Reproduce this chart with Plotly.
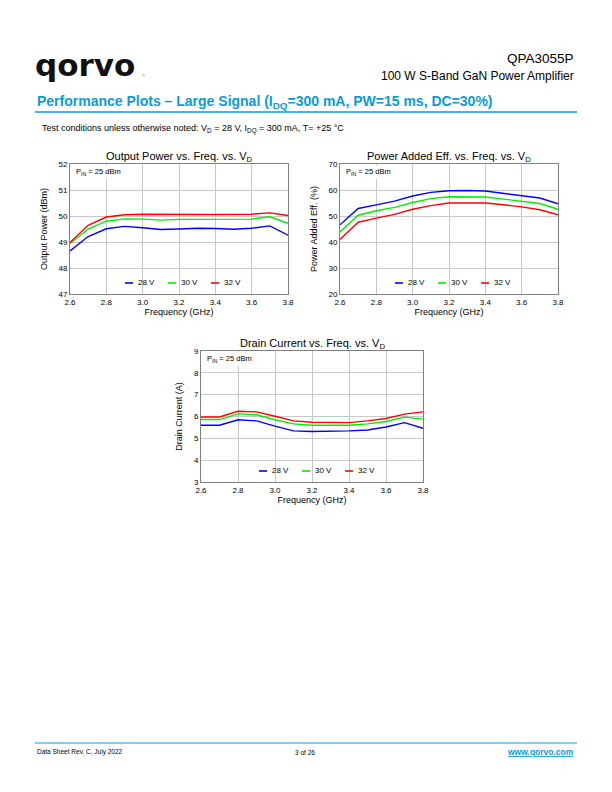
import plotly.graph_objects as go

freq = [2.6, 2.7, 2.8, 2.9, 3.0, 3.1, 3.2, 3.3, 3.4, 3.5, 3.6, 3.7, 3.8]
series_names = ["28 V", "30 V", "32 V"]
series_colors = ["#0000ff", "#00ee00", "#ff0000"]

pout_28 = [48.66, 49.21, 49.51, 49.60, 49.55, 49.48, 49.50, 49.53, 49.52, 49.49, 49.53, 49.62, 49.26]
pout_30 = [48.94, 49.50, 49.80, 49.89, 49.88, 49.84, 49.87, 49.87, 49.87, 49.87, 49.88, 49.97, 49.72]
pout_32 = [48.98, 49.64, 49.96, 50.05, 50.07, 50.06, 50.06, 50.06, 50.06, 50.06, 50.07, 50.12, 50.02]

pae_28 = [46.6, 52.9, 54.3, 55.7, 57.7, 59.1, 59.7, 59.8, 59.6, 58.7, 57.8, 56.9, 54.7]
pae_30 = [43.9, 50.3, 52.0, 53.3, 55.2, 56.7, 57.4, 57.4, 57.3, 56.5, 55.6, 54.8, 52.6]
pae_32 = [41.0, 47.6, 49.2, 50.6, 52.6, 54.0, 55.0, 55.1, 55.0, 54.3, 53.5, 52.4, 50.5]

id_28 = [5.60, 5.60, 5.85, 5.80, 5.56, 5.34, 5.31, 5.32, 5.34, 5.38, 5.52, 5.72, 5.46]
id_30 = [5.86, 5.86, 6.12, 6.08, 5.85, 5.66, 5.60, 5.60, 5.60, 5.66, 5.77, 5.97, 5.88]
id_32 = [5.98, 5.98, 6.24, 6.21, 6.01, 5.80, 5.74, 5.72, 5.72, 5.80, 5.91, 6.11, 6.21]

# page is 612x792; the html body adds an 8px margin, so the figure is drawn
# 8px smaller and page coordinates are shifted by that margin
OFF = 8
FW, FH = 612 - OFF, 792 - OFF
FONT = "Arial, Liberation Sans, sans-serif"
BLUE = "#0a9bd7"


def px(x):
    return (x - OFF) / FW


def py(y):
    return 1 - (y - OFF) / FH


charts = [
    dict(title="Output Power vs. Freq. vs. V<sub>D</sub>", ytitle="Output Power (dBm)",
         data=[pout_28, pout_30, pout_32], yr=[47, 52], dy=1, box=(70, 288, 164, 294)),
    dict(title="Power Added Eff. vs. Freq. vs. V<sub>D</sub>", ytitle="Power Added Eff. (%)",
         data=[pae_28, pae_30, pae_32], yr=[20, 70], dy=10, box=(340, 558, 164, 294)),
    dict(title="Drain Current vs. Freq. vs. V<sub>D</sub>", ytitle="Drain Current (A)",
         data=[id_28, id_30, id_32], yr=[3, 9], dy=1, box=(201, 423, 351, 482)),
]

fig = go.Figure()
annotations = []
shapes = []

for i, c in enumerate(charts):
    n = "" if i == 0 else str(i + 1)
    x0, x1, y0, y1 = c["box"]
    for name, col, vals in zip(series_names, series_colors, c["data"]):
        fig.add_trace(go.Scatter(x=freq, y=vals, mode="lines", name=name,
                                 line=dict(color=col, width=1.4),
                                 xaxis="x" + n, yaxis="y" + n, showlegend=False))
    axcommon = dict(showline=True, mirror=True, linecolor="#7f7f7f", linewidth=1,
                    showgrid=True, gridcolor="#c8c8c8", gridwidth=1, zeroline=False,
                    automargin=False,
                    ticks="", tickfont=dict(family=FONT, size=8, color="#000"))
    fig.layout["xaxis" + n] = dict(axcommon, domain=[px(x0), px(x1)], range=[2.6, 3.8],
                                   dtick=0.2, tick0=2.6, tickformat=".1f",
                                   anchor="y" + n,
                                   title=dict(text="Frequency (GHz)", standoff=2,
                                              font=dict(family=FONT, size=9, color="#000")))
    fig.layout["yaxis" + n] = dict(axcommon, domain=[py(y1), py(y0)], range=c["yr"],
                                   dtick=c["dy"], anchor="x" + n,
                                   title=dict(text=c["ytitle"], standoff=9,
                                              font=dict(family=FONT, size=9, color="#000")))
    # chart title
    annotations.append(dict(text=c["title"], x=px((x0 + x1) / 2), y=py(y0 - 7),
                            xref="paper", yref="paper", showarrow=False,
                            xanchor="center", yanchor="middle",
                            font=dict(family=FONT, size=11, color="#000")))
    # P_IN label
    annotations.append(dict(text="P<sub>IN</sub> = 25 dBm", x=px(x0 + 4), y=py(y0 + 8),
                            xref="paper", yref="paper", showarrow=False,
                            xanchor="left", yanchor="middle", bgcolor="#ffffff",
                            borderpad=1,
                            font=dict(family=FONT, size=7.5, color="#000")))
    # legend
    ly = y1 - 11
    lx = x0 + 55 if i < 2 else x0 + 58
    for k, (name, col) in enumerate(zip(series_names, series_colors)):
        sx = lx + k * 43
        shapes.append(dict(type="line", xref="paper", yref="paper",
                           x0=px(sx), x1=px(sx + 8), y0=py(ly), y1=py(ly),
                           line=dict(color=col, width=1.6)))
        annotations.append(dict(text=name, x=px(sx + 11), y=py(ly), xref="paper",
                                yref="paper", showarrow=False, xanchor="left",
                                yanchor="middle",
                                font=dict(family=FONT, size=8, color="#000")))

# header
annotations += [
    dict(text="<b>qorvo</b>", x=px(33), y=py(64.5), xref="paper",
         yref="paper", showarrow=False, xanchor="left", yanchor="middle",
         font=dict(family="DejaVu Sans, sans-serif", size=31, color="#111")),
    dict(text="®", x=px(140), y=py(75), xref="paper", yref="paper",
         showarrow=False, xanchor="left", yanchor="middle",
         font=dict(family=FONT, size=4, color="#666")),
    dict(text="QPA3055P", x=px(576), y=py(59), xref="paper", yref="paper",
         showarrow=False, xanchor="right", yanchor="middle",
         font=dict(family=FONT, size=13.5, color="#000")),
    dict(text="100 W S-Band GaN Power Amplifier", x=px(576), y=py(76), xref="paper",
         yref="paper", showarrow=False, xanchor="right", yanchor="middle",
         font=dict(family=FONT, size=12, color="#000")),
    dict(text="<b>Performance Plots – Large Signal (I<sub>DQ</sub>=300 mA, PW=15 ms, DC=30%)</b>",
         x=px(35), y=py(102), xref="paper", yref="paper", showarrow=False,
         xanchor="left", yanchor="middle", font=dict(family=FONT, size=14, color=BLUE)),
    dict(text="Test conditions unless otherwise noted: V<sub>D</sub> = 28 V, I<sub>DQ</sub> = 300 mA, T= +25 °C",
         x=px(40), y=py(129), xref="paper", yref="paper", showarrow=False,
         xanchor="left", yanchor="middle", font=dict(family=FONT, size=9, color="#000")),
    dict(text="Data Sheet Rev. C, July 2022", x=px(35), y=py(752), xref="paper",
         yref="paper", showarrow=False, xanchor="left", yanchor="middle",
         font=dict(family=FONT, size=6.5, color="#000")),
    dict(text="3 of 26", x=px(305), y=py(752), xref="paper", yref="paper",
         showarrow=False, xanchor="center", yanchor="middle",
         font=dict(family=FONT, size=6.5, color="#000")),
    dict(text="<b><u>www.qorvo.com</u></b>", x=px(576), y=py(752), xref="paper",
         yref="paper", showarrow=False, xanchor="right", yanchor="middle",
         font=dict(family=FONT, size=8.5, color=BLUE)),
]
shapes += [
    dict(type="line", xref="paper", yref="paper", x0=px(35), x1=px(577),
         y0=py(112), y1=py(112), line=dict(color=BLUE, width=1.5)),
    dict(type="line", xref="paper", yref="paper", x0=px(35), x1=px(577),
         y0=py(743), y1=py(743), line=dict(color=BLUE, width=1)),
]

fig.update_layout(width=FW, height=FH, margin=dict(l=0, r=0, t=0, b=0, autoexpand=False),
                  paper_bgcolor="#fff", plot_bgcolor="#fff",
                  annotations=annotations, shapes=shapes,
                  font=dict(family=FONT))

fig.write_html("out.html")
